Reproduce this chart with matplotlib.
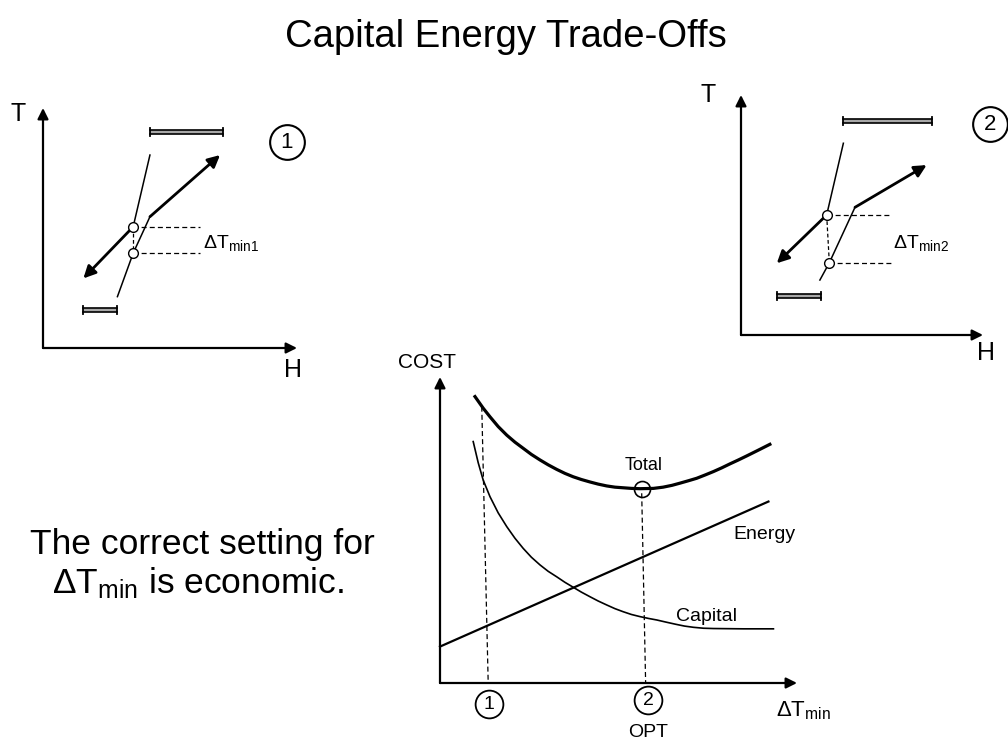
import matplotlib
matplotlib.use("Agg")
import matplotlib.pyplot as plt

plt.rcParams['font.family'] = ['Liberation Sans', 'DejaVu Sans']
plt.rcParams['mathtext.fontset'] = 'custom'
plt.rcParams['mathtext.rm'] = 'Liberation Sans'
plt.rcParams['mathtext.it'] = 'Liberation Sans'

# ---------------- data ----------------
title = "Capital Energy Trade-Offs"
note_lines = ["The correct setting for", "ΔT$_{\\rm min}$ is economic."]

# Panel 1 (small ΔTmin) composite curves, H / T units (0-100)
hot1_H = [42.1, 35.5, 15.9]
hot1_T = [80.4, 50.5, 29.0]
cold1_H = [29.3, 35.5, 42.1, 69.7]
cold1_T = [21.4, 39.5, 54.7, 80.4]
hot_util1 = [42.1, 70.9, 90.0]     # H start, H end, T
cold_util1 = [15.7, 29.1, 15.8]
dash_end1 = 61.8
label1 = "ΔT$_{\\rm min1}$"

# Panel 2 (optimum ΔTmin)
hot2_H = [42.3, 35.4, 14.8]
hot2_T = [79.9, 50.0, 29.9]
cold2_H = [32.6, 36.5, 47.1, 76.7]
cold2_T = [22.9, 30.1, 53.2, 70.8]
hot_util2 = [42.1, 78.9, 89.2]
cold_util2 = [14.9, 33.1, 16.25]
dash_end2 = 62.4
label2 = "ΔT$_{\\rm min2}$"

# Cost vs ΔTmin
total_x = [9.8, 12.1, 14.0, 16.3, 18.7, 21.0, 23.3, 25.6, 28.0, 30.3, 32.7,
           35.0, 37.3, 39.6, 42.0, 44.3, 46.7, 49.0, 51.3, 53.6, 56.0, 59.8,
           62.5, 65.0, 67.2, 69.6, 71.9, 74.3, 76.6, 78.9, 81.2, 83.6, 85.9,
           89.0, 92.4]
total_y = [93.6, 89.8, 87.0, 83.8, 81.0, 78.7, 76.7, 74.7, 72.9, 71.3, 69.8,
           68.5, 67.4, 66.5, 65.7, 65.0, 64.4, 64.0, 63.8, 63.6, 63.5, 63.6,
           64.0, 64.6, 65.3, 66.1, 66.9, 68.0, 69.1, 70.3, 71.6, 72.9, 74.2,
           76.0, 78.0]
capital_x = [9.3, 10.7, 12.1, 14.0, 16.3, 18.7, 21.0, 23.3, 25.6, 28.0, 30.3,
             32.7, 35.0, 37.3, 39.6, 42.0, 44.3, 46.7, 49.0, 51.3, 53.6, 56.0,
             58.4, 60.7, 63.3, 66.0, 68.5, 71.0, 73.8, 76.6, 85.0, 93.4]
capital_y = [78.9, 72.0, 66.3, 60.9, 55.6, 51.1, 47.3, 44.0, 41.1, 38.6, 36.5,
             34.7, 32.9, 31.3, 29.7, 28.2, 26.8, 25.5, 24.3, 23.3, 22.4, 21.7,
             21.1, 20.6, 19.9, 19.2, 18.6, 18.2, 17.9, 17.8, 17.7, 17.7]
energy_x = [0.0, 92.0]
energy_y = [11.9, 59.3]
case1_x = [11.7, 13.5]
case1_y = [90.3, 0.0]
case2_x = [56.5, 57.6]
case2_y = [62.0, 0.0]
opt_point = [56.5, 63.3]

# ---------------- figure ----------------
W, H = 1008, 742
fig = plt.figure(figsize=(W / 100, H / 100), dpi=100)


def px_axes(x0, x1, ytop, ybot):
    a = fig.add_axes([x0 / W, 1 - ybot / H, (x1 - x0) / W, (ybot - ytop) / H])
    a.set_xlim(0, 100)
    a.set_ylim(0, 100)
    a.axis('off')
    return a


bg = fig.add_axes([0, 0, 1, 1])
bg.set_xlim(0, W)
bg.set_ylim(H, 0)
bg.axis('off')

bg.text(506, 47, title, fontsize=27.5, ha='center', va='baseline')
bg.text(202, 554, note_lines[0], fontsize=25.5, ha='center', va='baseline')
bg.text(198, 593, note_lines[1], fontsize=25.5, ha='center', va='baseline')

AX_ARROW = dict(arrowstyle='-|>', lw=1.6, color='k', mutation_scale=16,
                shrinkA=0, shrinkB=0)
BIG_ARROW = dict(arrowstyle='-|>', lw=2.0, color='k', mutation_scale=18,
                 shrinkA=0, shrinkB=0)


def axes_arrows(a):
    a.annotate('', xy=(0, 100), xytext=(0, 0), arrowprops=AX_ARROW,
               annotation_clip=False)
    a.annotate('', xy=(100, 0), xytext=(0, 0), arrowprops=AX_ARROW,
               annotation_clip=False)


def util_bar(a, u):
    x0, x1, t = u
    a.fill_between([x0, x1], t - 0.9, t + 0.9, color='#a8a8a8', lw=0,
                   clip_on=False)
    a.plot([x0, x1], [t + 0.9, t + 0.9], color='k', lw=1.2, clip_on=False)
    a.plot([x0, x1], [t - 0.9, t - 0.9], color='k', lw=1.2, clip_on=False)
    for x in (x0, x1):
        a.plot([x, x], [t - 1.7, t + 1.7], color='k', lw=1.3, clip_on=False)


def composite_panel(a, hH, hT, cH, cT, hu, cu, dash_end, lab, lab_pos,
                    num, num_pos, t_pos, h_pos):
    axes_arrows(a)
    a.text(*t_pos, "T", fontsize=18, ha='center', va='center')
    a.text(*h_pos, "H", fontsize=18, ha='center', va='center')
    util_bar(a, hu)
    util_bar(a, cu)
    # hot composite: thin upper part, thick arrow part
    a.plot(hH[:2], hT[:2], color='k', lw=1.1, clip_on=False)
    a.annotate('', xy=(hH[2], hT[2]), xytext=(hH[1], hT[1]),
               arrowprops=BIG_ARROW, annotation_clip=False)
    # cold composite
    a.plot(cH[:3], cT[:3], color='k', lw=1.1, clip_on=False)
    a.annotate('', xy=(cH[3], cT[3]), xytext=(cH[2], cT[2]),
               arrowprops=BIG_ARROW, annotation_clip=False)
    # pinch dashed lines
    hp = (hH[1], hT[1])
    cp = (cH[1], cT[1])
    a.plot([hp[0], dash_end], [hp[1], hp[1]], 'k--', lw=0.9, dashes=(4, 2.5))
    a.plot([cp[0], dash_end], [cp[1], cp[1]], 'k--', lw=0.9, dashes=(4, 2.5))
    a.plot([hp[0], cp[0]], [hp[1], cp[1]], 'k--', lw=0.9, dashes=(3, 2))
    a.plot([hp[0], cp[0]], [hp[1], cp[1]], 'o', ms=7, mfc='white', mec='k',
           mew=1.0, zorder=5)
    a.text(*lab_pos, lab, fontsize=14, ha='left', va='center')
    a.plot(*num_pos, 'o', ms=25, mfc='none', mec='k', mew=1.5, clip_on=False)
    a.text(*num_pos, num, fontsize=16, ha='center', va='center')


ax1 = px_axes(43, 297, 108, 348)
composite_panel(ax1, hot1_H, hot1_T, cold1_H, cold1_T, hot_util1, cold_util1,
                dash_end1, label1, (62.8, 43.8), "1", (96.0, 85.8),
                (-9.8, 97.5), (98.4, -9.2))

ax2 = px_axes(741, 983, 95, 335)
composite_panel(ax2, hot2_H, hot2_T, cold2_H, cold2_T, hot_util2, cold_util2,
                dash_end2, label2, (62.8, 38.3), "2", (102.9, 87.9),
                (-13.6, 100.0), (101.2, -7.5))

# cost panel
ax3 = px_axes(440, 797, 377, 683)
axes_arrows(ax3)
ax3.plot(total_x, total_y, color='k', lw=2.3, clip_on=False,
         solid_joinstyle='round')
ax3.plot(capital_x, capital_y, color='k', lw=1.2, clip_on=False,
         solid_joinstyle='round')
ax3.plot(energy_x, energy_y, color='k', lw=1.6, clip_on=False)
ax3.plot(case1_x, case1_y, 'k--', lw=0.9, dashes=(4, 2.5))
ax3.plot(case2_x, case2_y, 'k--', lw=0.9, dashes=(4, 2.5))
ax3.plot(*opt_point, 'o', ms=11.5, mfc='none', mec='k', mew=1.2)
ax3.text(-3.6, 104.9, "COST", fontsize=15, ha='center', va='center')
ax3.text(56.9, 71.0, "Total", fontsize=13, ha='center', va='center')
ax3.text(91.0, 48.4, "Energy", fontsize=14, ha='center', va='center')
ax3.text(74.7, 21.7, "Capital", fontsize=14, ha='center', va='center')
ax3.text(94.0, -9.2, "ΔT$_{\\rm min}$", fontsize=16, ha='left', va='center')
for xx, yy, s in [(13.7, -6.9, "1"), (58.3, -5.6, "2")]:
    ax3.plot(xx, yy, 'o', ms=20, mfc='none', mec='k', mew=1.3, clip_on=False)
    ax3.text(xx, yy, s, fontsize=14, ha='center', va='center')
ax3.text(58.3, -16.3, "OPT", fontsize=14, ha='center', va='center')

fig.savefig("out.png", dpi=100)
